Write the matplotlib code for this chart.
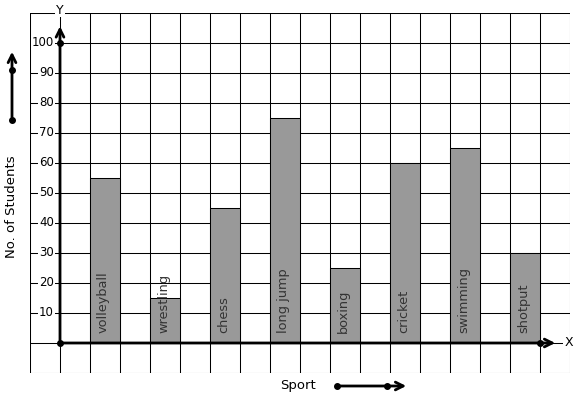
import matplotlib.pyplot as plt

sports = ['volleyball', 'wrestling', 'chess', 'long jump', 'boxing', 'cricket', 'swimming', 'shotput']
students = [55, 15, 45, 75, 25, 60, 65, 30]
y_ticks = [10, 20, 30, 40, 50, 60, 70, 80, 90, 100]

fig = plt.figure(figsize=(5.77, 3.99), dpi=100)
# plot area in pixels: x 30..570, y 13..373 (from top)
ax = fig.add_axes([30 / 577, 26 / 399, 540 / 577, 360 / 399])
ax.set_xlim(-1, 17)
ax.set_ylim(-10, 110)

# graph paper grid
for gx in range(-1, 18):
    ax.axvline(gx, color='black', lw=0.75, zorder=1)
for gy in range(-10, 111, 10):
    ax.axhline(gy, color='black', lw=0.75, zorder=1)
for s in ax.spines.values():
    s.set_visible(False)
ax.set_xticks([])
ax.set_yticks([])

# bars
pos = [2 * i + 1.5 for i in range(len(sports))]
ax.bar(pos, students, width=1, color='#999999', edgecolor='black', lw=0.75, zorder=2)
for x, name in zip(pos, sports):
    ax.text(x - 0.05, 3.2, name, rotation=90, ha='center', va='bottom',
            fontsize=9.3, color='#333333', zorder=3)

# axes with arrows
ax.annotate('', xy=(0, 106.5), xytext=(0, 0),
            arrowprops=dict(arrowstyle='->', lw=2, color='black', mutation_scale=14), zorder=4)
ax.annotate('', xy=(16.6, 0), xytext=(0, 0),
            arrowprops=dict(arrowstyle='->', lw=2, color='black', mutation_scale=14), zorder=4)
ax.plot([0, 0, 16], [0, 100, 0], 'o', color='black', ms=4, zorder=5, clip_on=False)

for t in y_ticks:
    ax.text(-0.2, t, str(t), ha='right', va='center', fontsize=8.5, zorder=3,
            bbox=dict(facecolor='white', edgecolor='none', pad=0.6))

ax.text(0, 111, 'Y', ha='center', va='center', fontsize=9, clip_on=False, zorder=3,
        bbox=dict(facecolor='white', edgecolor='none', pad=0.5))
ax.text(16.95, 0, 'X', ha='center', va='center', fontsize=9, zorder=3,
        bbox=dict(facecolor='white', edgecolor='none', pad=0.5))

# axis titles with direction arrows
fig.text(12 / 577, 192 / 399, 'No. of Students', rotation=90, ha='center', va='center', fontsize=9.5)
fig.text(298 / 577, 13 / 399, 'Sport', ha='center', va='center', fontsize=9.5)

fig.add_artist(plt.Line2D([12 / 577], [279 / 399], marker='o', color='black', ms=4))
fig.add_artist(plt.Line2D([12 / 577], [329 / 399], marker='o', color='black', ms=4))
ax.annotate('', xy=(12, 350), xytext=(12, 279), xycoords='figure pixels', textcoords='figure pixels',
            arrowprops=dict(arrowstyle='->', lw=2, color='black', mutation_scale=14))
fig.add_artist(plt.Line2D([337 / 577], [13 / 399], marker='o', color='black', ms=4))
fig.add_artist(plt.Line2D([387 / 577], [13 / 399], marker='o', color='black', ms=4))
ax.annotate('', xy=(409, 13), xytext=(337, 13), xycoords='figure pixels', textcoords='figure pixels',
            arrowprops=dict(arrowstyle='->', lw=2, color='black', mutation_scale=14))

fig.savefig('out.png', dpi=100, facecolor='white')
